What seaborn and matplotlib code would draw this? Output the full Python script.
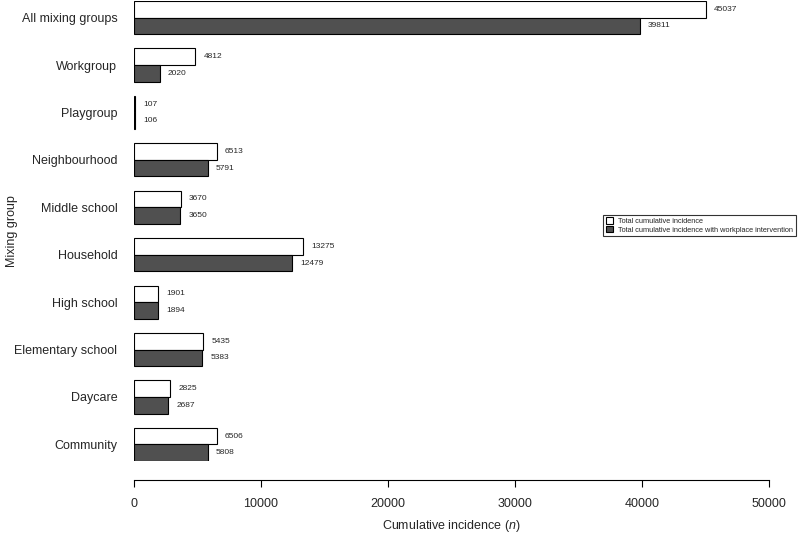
import matplotlib
matplotlib.use("Agg")
import matplotlib.pyplot as plt
from matplotlib.patches import Patch
import pandas as pd
import seaborn as sns

groups = ["All mixing groups", "Workgroup", "Playgroup", "Neighbourhood",
          "Middle school", "Household", "High school", "Elementary school",
          "Daycare", "Community"]
total = [45037, 4812, 107, 6513, 3670, 13275, 1901, 5435, 2825, 6506]
with_intervention = [39811, 2020, 106, 5791, 3650, 12479, 1894, 5383, 2687, 5808]

series = ["Total cumulative incidence",
          "Total cumulative incidence with workplace intervention"]
colors = ["white", "#505050"]

df = pd.DataFrame({
    "group": groups * 2,
    "value": total + with_intervention,
    "series": [series[0]] * len(groups) + [series[1]] * len(groups),
})

sns.set_style("ticks")
plt.rcParams["font.family"] = ["Liberation Sans", "DejaVu Sans"]
plt.rcParams["mathtext.fontset"] = "custom"
plt.rcParams["mathtext.rm"] = "Liberation Sans"
plt.rcParams["mathtext.it"] = "Liberation Sans:italic"

fig = plt.figure(figsize=(8, 5.4), dpi=100)
ax = fig.add_axes([134 / 800, 1 - 461 / 540, 635 / 800, 460 / 540])

sns.barplot(data=df, y="group", x="value", hue="series", hue_order=series,
            order=groups, orient="h", width=0.7, palette=colors,
            edgecolor="black", linewidth=0.8, legend=False, ax=ax)

# value labels at the end of each bar
for cont in ax.containers:
    ax.bar_label(cont, padding=6, fontsize=6)

ax.set_xlim(0, 50000)
ax.set_ylim(len(groups) - 1 + 0.35, -0.35)
ax.set_xticks([0, 10000, 20000, 30000, 40000, 50000])
ax.set_xticklabels(["0", "10000", "20000", "30000", "40000", "50000"])

for side in ["top", "right", "left"]:
    ax.spines[side].set_visible(False)
ax.spines["bottom"].set_position(("outward", 13.5))
ax.spines["bottom"].set_bounds(0, 50000)
ax.spines["bottom"].set_linewidth(0.8)
ax.spines["bottom"].set_color("black")

ax.tick_params(axis="y", length=0, pad=12, labelsize=9)
ax.tick_params(axis="x", length=5, width=0.8, pad=8, labelsize=9, color="black")

ax.set_xlabel("Cumulative incidence ($\\mathit{n}$)", fontsize=9)
ax.xaxis.set_label_coords(0.5, -0.125)
ax.set_ylabel("Mixing group", fontsize=9)
ax.yaxis.set_label_coords(-0.183, 0.5)

handles = [Patch(facecolor=c, edgecolor="black", linewidth=0.8) for c in colors]
leg = fig.legend(handles, series, loc="center right",
                 bbox_to_anchor=(0.995, 1 - 225.5 / 540), fontsize=5.3,
                 frameon=True, fancybox=False, borderaxespad=0,
                 handlelength=0.9, handleheight=0.9, handletextpad=0.8,
                 labelspacing=0.12, borderpad=0.35)
leg.get_frame().set_edgecolor("black")
leg.get_frame().set_linewidth(0.8)

fig.savefig("out.png", dpi=100)
